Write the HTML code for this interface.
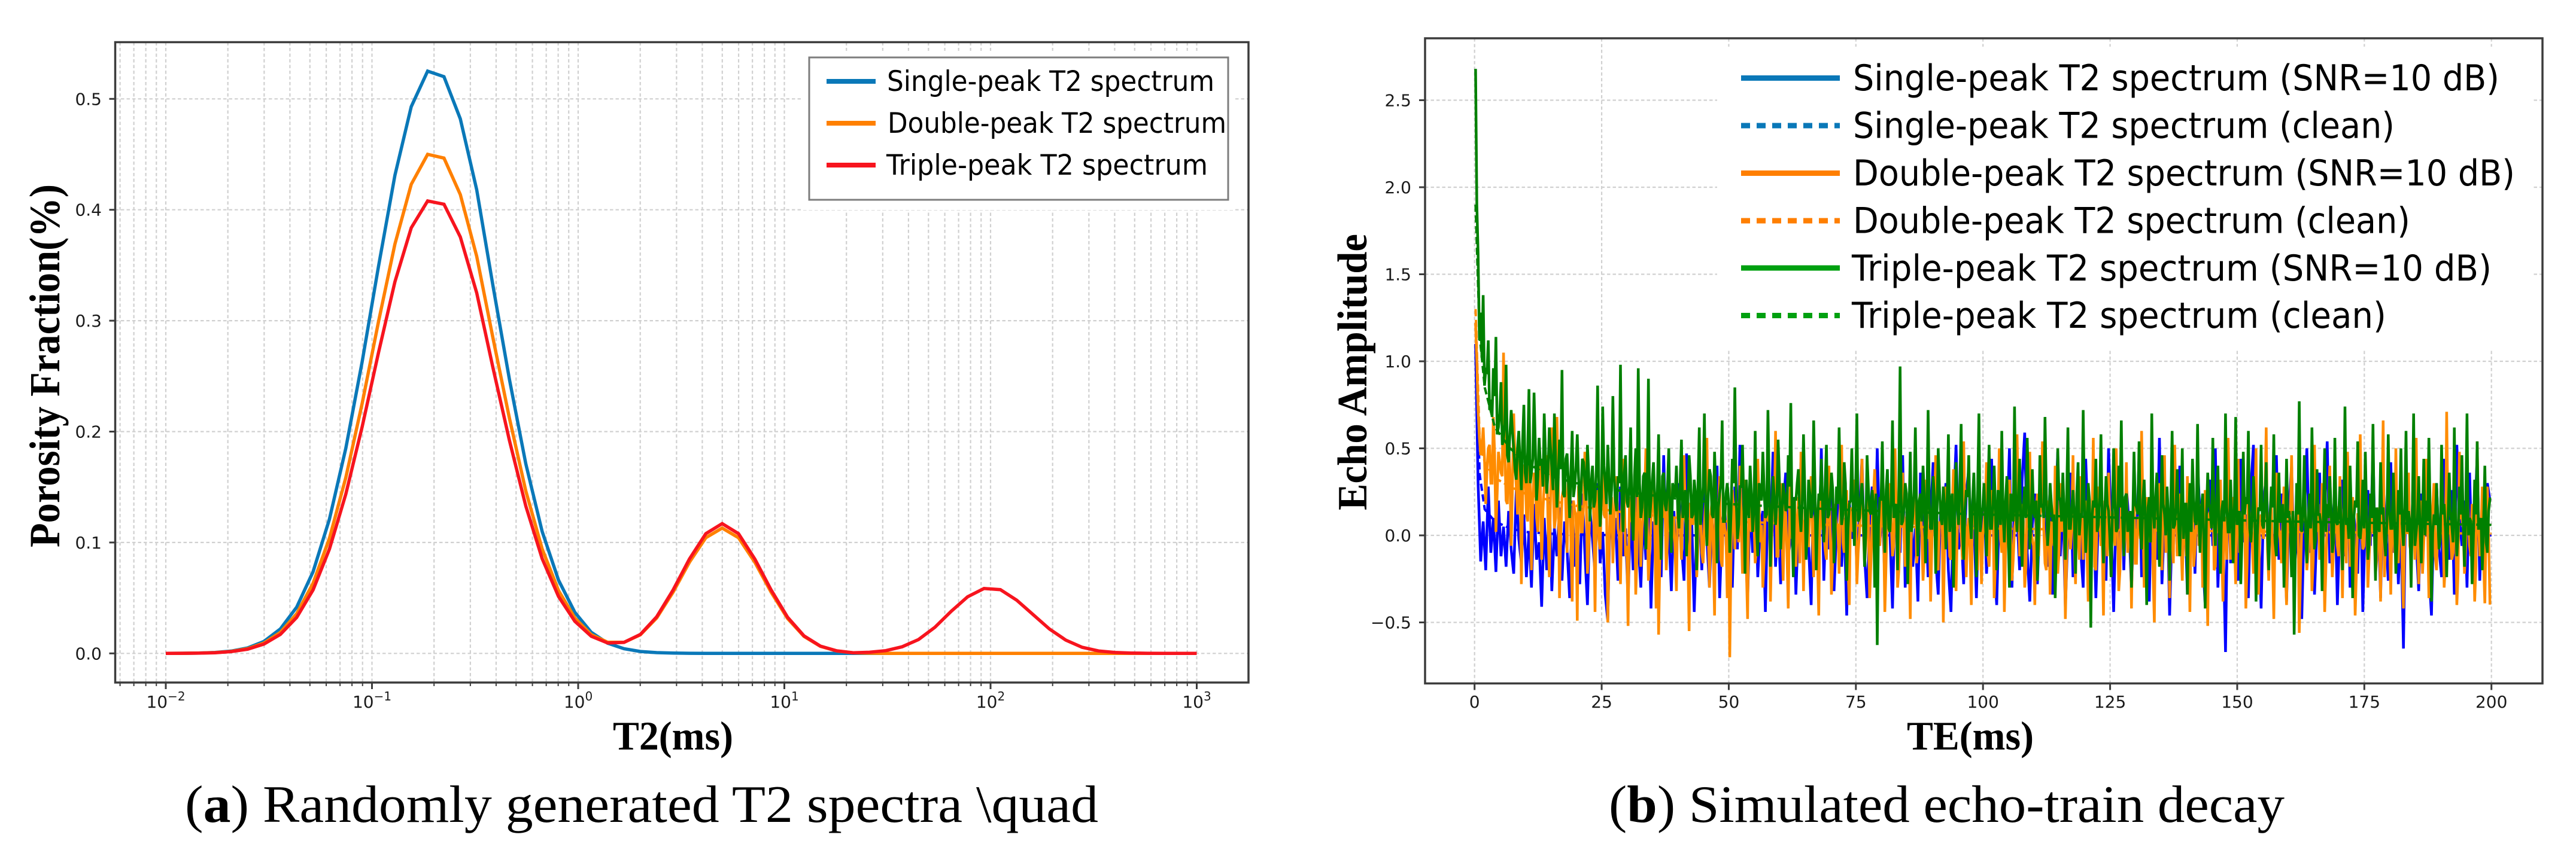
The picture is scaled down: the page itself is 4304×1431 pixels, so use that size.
<!DOCTYPE html>
<html lang="en">
<head>
<meta charset="utf-8">
<title>T2 spectra and echo-train decay</title>
<style>
html,body{margin:0;padding:0;background:#fff;}
svg{display:block;}
.tick{font-family:"DejaVu Sans","Liberation Sans",sans-serif;font-size:28px;fill:#1a1a1a;}
.legend{font-family:"DejaVu Sans","Liberation Sans",sans-serif;fill:#000;}
.axis-title{font-family:"Liberation Serif",serif;font-weight:bold;fill:#000;}
.caption{font-family:"Liberation Serif",serif;font-size:88px;fill:#000;}
</style>
</head>
<body>
<svg id="fig" xmlns="http://www.w3.org/2000/svg" width="4304" height="1431" viewBox="0 0 4304 1431">
  <rect x="0" y="0" width="4304" height="1431" fill="#fff"/>
  <g id="panelA"></g>
  <g id="panelB"></g>

  <g>
    <rect x="1340" y="85" width="724" height="266" fill="#fff"/>
    <rect x="1352" y="96" width="700" height="238" fill="#fff" stroke="#7d7d7d" stroke-width="3"/>
    <line x1="1381" x2="1463" y1="136" y2="136" stroke="#0a78b8" stroke-width="8"/>
    <line x1="1381" x2="1463" y1="206" y2="206" stroke="#ff8000" stroke-width="8"/>
    <line x1="1381" x2="1463" y1="276" y2="276" stroke="#f7141e" stroke-width="8"/>
    <text class="legend" x="1482" y="152" font-size="47" textLength="547" lengthAdjust="spacingAndGlyphs">Single-peak T2 spectrum</text>
    <text class="legend" x="1483" y="222" font-size="47" textLength="566" lengthAdjust="spacingAndGlyphs">Double-peak T2 spectrum</text>
    <text class="legend" x="1481" y="292" font-size="47" textLength="537" lengthAdjust="spacingAndGlyphs">Triple-peak T2 spectrum</text>
  </g>

  <text class="axis-title" x="1024" y="1253" font-size="68" textLength="201" lengthAdjust="spacingAndGlyphs">T2(ms)</text>
  <text class="axis-title" transform="translate(99 915) rotate(-90)" x="0" y="0" font-size="72" textLength="607" lengthAdjust="spacingAndGlyphs">Porosity Fraction(%)</text>
  <text class="caption" x="309" y="1374" textLength="1526" lengthAdjust="spacingAndGlyphs">(<tspan font-weight="bold">a</tspan>) Randomly generated T2 spectra \quad</text>

  <text class="axis-title" x="3186" y="1253" font-size="68" textLength="212" lengthAdjust="spacingAndGlyphs">TE(ms)</text>
  <text class="axis-title" transform="translate(2283 853) rotate(-90)" x="0" y="0" font-size="70" textLength="462" lengthAdjust="spacingAndGlyphs">Echo Amplitude</text>
  <text class="caption" x="2688" y="1374" textLength="1129" lengthAdjust="spacingAndGlyphs">(<tspan font-weight="bold">b</tspan>) Simulated echo-train decay</text>

<script>
const t2Min = 0.01;
const t2Max = 1000;
const t2Decades = [-2, -1, 0, 1, 2, 3];
const t2DecadeLabels = ['\u22122', '\u22121', '0', '1', '2', '3'];
const t2MinorTicks = [0.006,0.007,0.008,0.009,0.02,0.03,0.04,0.05,0.06,0.07,0.08,0.09,0.2,0.3,0.4,0.5,0.6,0.7,0.8,0.9,2,3,4,5,6,7,8,9,20,30,40,50,60,70,80,90,200,300,400,500,600,700,800,900];
const porosityTicks = [0, 0.1, 0.2, 0.3, 0.4, 0.5];

const singlePeak = [0,.0001,.0003,.0008,.0021,.0049,.0108,.022,.0417,.0737,.121,.185,.263,.349,.431,.493,.525,.52,.482,.418,.331,.247,.171,.11,.066,.037,.019,.0092,.0042,.0017,.0007,.0003,.0001,0,0,0,0,0,0,0,0,0,0,0,0,0,0,0,0,0,0,0,0,0,0,0,0,0,0,0,0,0,0,0];
const doublePeak = [0,.0001,.0003,.0007,.0018,.0042,.0093,.0189,.0357,.0632,.1037,.1585,.2254,.2991,.369,.423,.45,.4466,.4137,.358,.284,.212,.1465,.0943,.0566,.0319,.0169,.0101,.01,.0168,.032,.0553,.0822,.1043,.113,.1043,.0821,.055,.0314,.0153,.0064,.0022,.0006,.0002,0,0,0,0,0,0,0,0,0,0,0,0,0,0,0,0,0,0,0,0];
const triplePeak = [0,.0001,.0002,.0006,.0016,.0038,.0084,.0171,.0324,.0573,.094,.1437,.2043,.2712,.335,.3837,.408,.405,.3755,.325,.2572,.1919,.1329,.0855,.0513,.0289,.0154,.0094,.0099,.0171,.033,.0572,.0851,.108,.117,.108,.085,.057,.0325,.0158,.0066,.0023,.0006,.001,.0025,.006,.0125,.0235,.038,.051,.0585,.0575,.048,.035,.022,.012,.0055,.0022,.0008,.0003,.0001,0,0,0];

const teTicks = [0, 25, 50, 75, 100, 125, 150, 175, 200];
const echoTicks = [-0.5, 0, 0.5, 1, 1.5, 2, 2.5];
const echoTickLabels = ['\u22120.5', '0.0', '0.5', '1.0', '1.5', '2.0', '2.5'];
const teStart = 0.2;
const teStep = 0.5;

const noisySingle = [
1.1,.3,-.15,.08,-.2,.28,-.1,.1,-.21,.2,-.12,.05,-.18,.14,-.08,-.22,.26,-.02,-.16,.12,
-.24,.02,-.3,.18,-.14,-.04,-.41,.1,-.2,.22,-.32,.04,-.12,.16,-.26,.08,-.08,-.36,.2,-.18,
.06,-.28,.24,-.1,-.4,.14,-.02,-.22,.3,-.16,.02,-.34,-.49,.18,-.06,.1,-.26,.28,-.12,.04,
-.38,.16,-.2,.34,-.04,-.3,.12,-.14,.26,-.42,.08,-.08,.2,-.24,.46,-.1,.02,-.32,.14,-.18,
.3,-.06,-.26,.47,-.14,.1,-.44,.04,.22,-.2,.36,-.02,-.3,.12,-.12,.4,-.36,.06,.18,-.22,
.08,-.3,.28,-.08,.52,-.16,.02,-.38,.2,-.1,.34,-.24,.06,.14,-.44,.24,-.04,.48,-.18,.1,
-.28,.16,.36,-.12,-.02,.22,-.34,.08,.42,-.2,.12,-.06,-.4,.3,.02,-.14,.5,-.26,.18,-.08,
.26,-.32,.04,.38,-.18,.1,-.46,.2,-.02,.32,-.22,.14,.44,-.12,-.36,.06,.28,-.16,.5,-.04,
.16,-.26,.34,.02,-.42,.22,.08,-.1,.46,-.3,.12,.26,-.18,.04,-.38,.36,-.06,.18,-.24,.1,
.42,-.14,-.34,.2,.06,.3,-.2,-.44,.14,.52,-.08,.02,-.28,.24,.38,-.12,.1,-.36,.18,-.04,
.28,-.22,.08,.44,-.16,-.4,.16,.34,-.06,.04,.5,-.3,.2,.12,-.2,.32,.59,-.1,-.38,.06,
.24,-.28,.14,.4,-.04,-.18,.3,-.34,.08,.48,-.12,.2,-.42,.02,.36,-.24,.1,.26,-.08,-.3,
.44,.04,-.16,.22,-.36,.12,.32,-.02,-.26,.5,.06,-.44,.18,-.1,.38,-.2,.28,.08,-.32,.14,
-.06,.46,-.24,.1,.2,-.38,.34,.02,-.14,.56,-.28,.12,.24,-.46,.06,.3,-.1,.4,-.18,.16,
-.34,.04,.26,-.22,.42,.1,-.12,-.4,.18,.32,-.06,.5,-.3,.14,.02,-.67,.36,-.16,.22,.08,
-.26,.44,-.04,.12,-.36,.28,.52,-.18,.06,-.42,.2,.34,-.08,.1,-.3,.46,-.14,.24,.02,-.38,
.16,.4,-.2,-.04,.3,-.48,.12,.5,-.1,.22,-.34,.06,.36,-.24,.14,.54,-.16,-.02,.28,-.4,
.08,.32,-.12,.46,-.3,.18,.04,-.22,.38,-.44,.1,.26,-.06,.5,-.18,.14,-.36,.3,.02,-.26,
.42,-.1,.2,-.28,.06,-.65,.34,.12,-.16,.48,-.04,-.32,.24,.1,.38,-.2,-.46,.16,.3,-.08,
-.24,.44,.04,-.14,.26,-.34,.52,.1,-.06,.2,-.3,.36,-.18,.08,.46,-.26,.14,-.02,.3,.2
];
const noisyDouble = [
1.22,.72,.46,.62,.18,.5,.3,.68,.02,.48,.36,1.05,.2,.52,-.06,.7,.28,.44,-.28,.4,
.12,.58,-.2,.36,.1,.5,-.14,.3,.46,-.24,.62,.04,.68,-.36,.22,.42,-.1,.34,-.38,.14,
-.49,.3,.02,.48,-.22,.18,.36,-.44,.26,-.08,.52,.1,-.5,.2,-.16,.34,.04,-.28,.44,-.12,
-.52,.22,.06,-.34,.4,-.18,.14,.5,-.26,.08,.32,-.42,-.57,.16,.28,-.2,.38,-.06,.1,-.32,
.24,-.14,.46,.02,-.55,.18,.3,-.24,.42,-.1,.06,.56,-.3,.2,-.46,.12,.34,-.18,.04,-.36,
-.7,.26,-.08,.14,.4,-.22,.32,-.48,.1,.2,-.16,.44,-.04,-.3,.24,.08,-.38,.16,.6,-.12,
.3,-.26,.12,-.42,.36,.02,-.18,.22,.48,-.32,.1,-.06,.34,-.24,.16,-.46,.28,.04,-.14,.4,
-.34,.18,.06,-.22,.52,-.1,.26,-.4,.12,.32,-.28,.02,.44,-.16,.2,-.36,.08,.38,-.2,-.06,
.24,-.44,.14,.3,-.12,.5,-.3,.04,.36,-.18,.1,-.48,.22,.42,-.08,.16,-.26,.32,-.02,-.38,
.18,.46,-.2,.06,-.5,.28,.12,-.14,.38,-.32,.2,.02,.54,-.24,.1,-.4,.3,-.06,.16,-.28,
.08,.42,-.18,.26,-.36,.14,.5,-.1,-.44,.22,.32,-.26,.04,.58,-.12,.18,-.3,.36,.48,-.02,
-.4,.24,.1,.54,-.16,.2,-.34,.06,.4,-.22,.3,.12,-.48,.16,-.08,.46,-.28,.02,.34,-.14,
.2,-.38,.08,.56,-.2,.28,-.06,-.46,.14,.36,-.24,.04,.5,-.32,.18,-.1,.42,.06,-.42,.26,
-.16,.1,.6,-.3,.22,-.04,.38,-.5,.12,.3,-.2,.46,.02,-.36,.16,.52,-.12,.24,-.26,.08,
.34,-.44,.18,-.08,.48,.06,-.3,.26,-.52,.14,.4,-.18,.02,.32,-.38,.1,.56,-.14,.22,-.28,
.44,-.06,.16,-.42,.3,.08,-.22,.5,-.34,.12,-.02,.62,-.26,.2,-.48,.36,.04,-.16,.28,-.4,
.14,.46,-.1,.24,-.56,.06,.38,-.2,.18,-.32,.52,.02,-.14,.3,-.44,.1,.4,-.24,.16,-.06,
.34,-.36,.08,.48,-.18,.22,-.46,.12,.58,-.08,.28,-.3,.04,.42,-.22,.16,-.38,.66,-.02,.2,
-.34,.1,.5,-.16,.26,-.42,.06,.36,-.1,.14,.56,-.28,.2,-.04,.44,-.36,.12,.3,-.2,.02,
.4,-.3,.71,.08,-.14,.24,-.4,.48,.1,-.22,.34,-.06,.18,-.38,.54,-.12,.28,-.39,.28,-.39
];
const noisyTriple = [
2.68,1.62,1.28,1.38,.95,1.12,.78,.96,1.14,.62,.88,.55,.98,.42,.72,.5,.32,.6,.26,.75,
.3,.84,.36,.82,.2,.56,.44,.7,.24,.62,.38,.7,.16,.55,.95,.22,.47,.1,.6,.28,
.58,.14,.44,.3,.52,.08,.4,.2,.86,.05,.74,.3,.52,.12,.8,.2,.34,.98,.02,.46,
.16,.62,-.03,.5,.96,.1,.34,-.08,.9,.2,.42,.06,.58,-.14,.36,.14,.5,-.1,.26,.4,
.04,.55,.2,-.12,.46,.1,.32,-.2,.62,.16,.7,-.06,.38,.12,.48,-.16,.24,.66,.08,.3,
-.1,.44,.85,-.02,.28,.52,-.22,.18,.4,.02,.6,-.12,.26,.48,.1,.72,-.18,.34,.06,.55,
-.08,.3,.14,.46,.76,-.24,.2,.38,.02,.58,-.14,.32,.1,.66,-.2,.24,.44,-.04,.52,.12,
.36,-.16,.28,.62,.06,.42,-.26,.18,.5,-.06,.7,.1,.3,-.18,.46,.14,.26,-.3,-.63,.22,
.54,-.1,.38,.02,.66,.16,-.2,.97,.08,.3,-.28,.48,.12,.62,-.12,.24,.4,-.16,.72,.04,
.34,-.22,.5,.1,.28,-.08,.58,.18,-.3,.42,.06,.64,-.14,.26,.46,-.02,.36,-.24,.7,.12,
.3,-.12,.52,.04,.4,-.2,.22,.6,-.04,.34,-.3,.16,.74,.02,.44,-.18,.28,.56,-.08,.38,
.1,-.26,.46,.18,.68,-.06,.3,.08,-.36,.5,.2,.36,-.14,.62,.04,.26,-.22,.42,.12,.72,
-.1,.3,-.53,.2,.44,.06,.58,-.16,.34,.14,-.24,.5,.02,.4,.66,-.12,.24,.1,-.3,.48,
.16,.54,-.08,.32,-.4,.22,.7,.04,.36,-.18,.46,.12,.28,-.26,.6,.06,.38,-.12,.5,.18,
-.34,.3,.44,.08,.64,-.1,.24,-.42,.36,.14,.56,-.06,.4,-.22,.2,.7,.02,.32,-.16,.68,
.1,-.28,.48,.22,.6,-.04,.34,-.38,.16,.52,.04,.42,-.2,.28,.58,-.12,.36,.08,-.3,.44,
.14,-.24,-.57,.3,.77,.02,.46,-.16,.24,.62,-.08,.38,.12,-.32,.5,.18,.34,-.1,.56,.06,
.28,-.2,.74,.1,.4,-.36,.2,.54,-.02,.32,.48,-.14,.24,.64,-.26,.08,.42,.16,-.12,.58,
.04,.36,-.22,.26,.5,-.06,.6,.14,-.3,.7,.02,.34,-.16,.44,.2,.56,-.38,.12,.3,-.08,
.52,.18,-.24,.36,.06,.62,-.12,.28,.46,-.18,.7,.1,-.28,.32,.54,.04,-.2,.4,-.1,.21
];
/* in-between samples (half a step later), closer to the band's centre */
const midDouble = [
1.0,.56,.5,.44,.38,.52,.3,.46,.24,.42,.34,.5,.18,.38,.28,.44,.12,.36,.22,.4,
.08,.34,.2,.3,.02,.28,.14,.36,.06,.24,.3,.1,.34,0,.26,.16,.32,-.04,.2,.12,
.28,.02,.18,.24,-.08,.3,.1,.16,-.02,.26,.12,.2,-.1,.22,.06,.28,0,.14,.24,-.06,
.18,.08,.26,-.12,.16,.04,.22,.12,-.08,.2,.02,.24,-.14,.1,.18,-.02,.22,.06,-.1,.16,
.02,.2,.1,-.12,.18,.06,.24,-.06,.14,-.16,.2,.04,.12,-.08,.22,.08,-.14,.16,0,.18,
-.1,.12,.2,-.04,.08,.16,-.18,.22,.02,.1,-.08,.18,.06,-.14,.14,.2,-.02,.1,-.12,.16,
.04,.18,-.1,.12,-.02,.2,.06,-.16,.14,.08,-.06,.22,0,.1,-.14,.16,.04,-.08,.18,.02,
-.12,.14,.06,.2,-.04,.1,-.18,.16,.02,.12,-.1,.18,.04,-.06,.14,-.16,.22,.08,-.02,.12,
.04,-.14,.18,.08,-.06,.14,-.2,.2,0,.1,-.08,.16,.06,-.16,.12,.02,-.1,.18,.04,-.04,
.14,-.18,.08,.2,-.02,.1,-.12,.16,-.06,.04,.22,-.14,.12,.02,-.08,.18,.06,-.2,.1,0,
.16,-.1,.06,.2,-.16,.12,-.02,.14,-.08,.18,.04,-.14,.1,.22,-.04,.08,-.18,.16,.02,-.06,
.12,-.12,.18,.04,-.2,.14,.08,-.06,.2,-.1,.02,.16,-.16,.1,.06,-.02,.18,-.14,.12,.04,
-.08,.16,.02,-.18,.12,.08,-.04,.2,-.12,.06,.14,-.06,.1,-.2,.18,.02,-.1,.14,.06,-.16,
.1,-.02,.16,-.14,.08,.04,-.22,.14,.12,-.06,.18,-.1,.02,.1,-.16,.16,.06,-.04,.12,-.12,
.04,.14,-.18,.08,-.06,.18,0,-.12,.12,.06,-.2,.16,.02,-.08,.1,-.14,.2,.04,-.02,.12,
-.1,.06,.16,-.16,.1,-.04,.14,-.2,.08,.02,.18,-.08,.12,-.14,.04,.16,-.02,.1,-.18,.06,
.12,-.06,.02,.16,-.22,.1,.04,-.1,.14,-.14,.08,.18,-.04,.06,-.18,.12,.02,-.08,.16,-.12,
.06,.1,-.16,.14,-.02,.08,-.2,.12,.04,-.06,.16,-.12,.02,.1,-.14,.06,.14,-.24,.08,0,
.12,-.1,.04,.16,-.18,.06,.1,-.06,.14,-.14,.02,.12,-.22,.08,.04,-.08,.16,-.12,.06,-.02,
.14,-.16,.08,.02,-.1,.12,-.2,.1,.04,-.06,.14,-.12,.06,-.18,.1,.02,-.14,.08,0,-.39
];
const midTriple = [
1.9,1.12,1.02,.86,.94,.72,.68,.8,.58,.7,.52,.64,.46,.58,.6,.38,.5,.42,.54,.36,
.48,.3,.44,.52,.34,.4,.28,.46,.36,.5,.26,.42,.32,.38,.24,.44,.3,.36,.22,.4,
.34,.26,.42,.2,.36,.3,.16,.38,.28,.22,.4,.18,.32,.26,.34,.14,.3,.24,.36,.2,
.28,.12,.34,.22,.3,.16,.36,.24,.1,.32,.2,.26,.14,.34,.18,.28,.08,.3,.22,.16,
.32,.1,.26,.2,.34,.12,.24,.3,.06,.28,.18,.22,.34,.1,.26,.16,.3,.08,.24,.2,
.14,.3,.22,.06,.28,.18,.32,.1,.24,.16,.04,.3,.2,.26,.12,.28,.08,.22,.18,.32,
.1,.24,.16,.28,.06,.22,.3,.12,.18,.26,.02,.24,.14,.3,.08,.2,.16,.28,.1,.22,
.26,.06,.18,.24,.12,.3,.04,.2,.14,.26,.08,.22,.16,.02,.28,.12,.18,.24,.06,.2,
.14,.26,.04,.22,.1,.18,.28,.06,.16,.24,.12,.02,.26,.14,.2,.08,.24,.1,.18,.04,
.22,.12,.26,.06,.16,.2,.02,.24,.1,.18,.28,.04,.14,.22,.08,.2,.12,.26,.02,.16,
.1,.22,.04,.18,.14,.26,.06,.12,.2,0,.24,.08,.16,.22,.04,.18,.1,.24,.06,.14,
.2,.02,.16,.1,.24,.06,.18,.12,-.02,.22,.08,.14,.2,.04,.16,.1,.24,0,.12,.18,
.06,.2,.1,.16,.02,.22,.08,.14,.18,-.02,.12,.2,.04,.16,.1,.22,.02,.14,.08,.18,
.12,.04,.2,.08,.16,-.04,.14,.22,.06,.1,.18,0,.12,.2,.04,.16,.08,.14,-.02,.18,
.1,.02,.2,.06,.14,.16,-.04,.12,.18,.04,.1,.2,0,.14,.08,.16,.02,.1,.18,.06,
.14,-.02,.12,.18,.04,.1,.16,0,.14,.06,.2,.02,.1,.16,-.04,.12,.08,.18,.02,.1,
.06,.14,-.06,.12,.08,.16,0,.1,.04,.18,-.02,.12,.06,.14,.02,.1,.16,-.04,.08,.12,
.02,.14,.06,-.02,.12,.1,.16,0,.08,.04,.14,-.04,.1,.06,.16,.02,.12,-.02,.08,.14,
.04,.1,-.04,.12,.06,.16,.02,.08,.14,-.06,.1,.04,.12,0,.08,.14,.02,.06,.1,-.02,
.12,.04,.08,.14,-.04,.1,.02,.12,.06,.16,0,.08,-.02,.12,.04,.1,.06,-.04,.14,.21
];
const cleanTE = [0.2,1,2,4,7,10,15,20,30,40,50,70,100,130,160,200];
const cleanSingle = [1.1,.35,.15,.08,.04,.02,.01,.005,0,0,0,0,0,0,0,0];
const cleanDouble = [1.3,.55,.42,.33,.28,.24,.2,.17,.13,.1,.08,.06,.04,.03,.02,.01];
const cleanTriple = [1.9,1.15,.85,.62,.5,.42,.34,.3,.25,.21,.18,.15,.12,.1,.08,.06];

const NS = 'http://www.w3.org/2000/svg';
function mk(tag, attrs, parent) {
  const e = document.createElementNS(NS, tag);
  for (const k in attrs) e.setAttribute(k, attrs[k]);
  parent.appendChild(e);
  return e;
}
const GRID = {stroke:'#d0d0d0','stroke-width':2.2,'stroke-dasharray':'5.5 4',fill:'none'};
const SPINE = '#3c3c3c';

/* Panel A axis functions */
const ax = {l:192.5,r:2086,t:70.5,b:1141};
function xA(t) { return 966 + 344.5 * Math.log10(t); }
function yA(v) { return 1092.3 - 1854 * v; }
const A = document.getElementById('panelA');

t2MinorTicks.forEach(function (t) {
  const g = mk('line', Object.assign({x1:xA(t),x2:xA(t),y1:ax.t,y2:ax.b}, GRID), A);
  
  
  const k = mk('line', {x1:xA(t),x2:xA(t),y1:ax.b,y2:ax.b+6,stroke:SPINE,'stroke-width':2}, A);
  
  
});
t2Decades.forEach(function (d, i) {
  const t = Math.pow(10, d);
  const g = mk('line', Object.assign({x1:xA(t),x2:xA(t),y1:ax.t,y2:ax.b}, GRID), A);
  
  
  const k = mk('line', {x1:xA(t),x2:xA(t),y1:ax.b,y2:ax.b+11,stroke:SPINE,'stroke-width':3}, A);
  
  
  const lab = mk('text', {x:xA(t),y:1183,'text-anchor':'middle',class:'tick'}, A);
  
  
  const b = mk('tspan', {}, lab);
  b.textContent = '10';
  const s = mk('tspan', {dy:-12,'font-size':20}, lab);
  s.textContent = t2DecadeLabels[i];
});
porosityTicks.forEach(function (v) {
  const g = mk('line', Object.assign({x1:ax.l,x2:ax.r,y1:yA(v),y2:yA(v)}, GRID), A);
  
  
  const k = mk('line', {x1:ax.l-10,x2:ax.l,y1:yA(v),y2:yA(v),stroke:SPINE,'stroke-width':3}, A);
  
  
  const lab = mk('text', {x:170,y:yA(v)+10,'text-anchor':'end',class:'tick'}, A);
  
  
  lab.textContent = v.toFixed(1);
});
function spectrumPath(vals) {
  const n = vals.length;
  return vals.map(function (v, i) {
    const t = t2Min * Math.pow(t2Max / t2Min, i / (n - 1));
    return (i ? 'L' : 'M') + xA(t).toFixed(1) + ' ' + yA(v).toFixed(1);
  }).join('');
}
const spectrumSingle = mk('path', {d:spectrumPath(singlePeak),fill:'none',stroke:'#0a78b8','stroke-width':5.5}, A);


const spectrumDouble = mk('path', {d:spectrumPath(doublePeak),fill:'none',stroke:'#ff8000','stroke-width':5.5}, A);


const spectrumTriple = mk('path', {d:spectrumPath(triplePeak),fill:'none',stroke:'#f7141e','stroke-width':5.5}, A);


const frameA = mk('rect', {x:ax.l,y:ax.t,width:ax.r-ax.l,height:ax.b-ax.t,fill:'none',stroke:SPINE,'stroke-width':3.5}, A);



/* Panel B axis functions */
const bx = {l:2381,r:4248,t:64,b:1142.5};
function xB(t) { return 2463.7 + 8.495 * t; }
function yB(v) { return 895 - 291 * v; }
const B = document.getElementById('panelB');

teTicks.forEach(function (t) {
  const g = mk('line', Object.assign({x1:xB(t),x2:xB(t),y1:bx.t,y2:bx.b}, GRID), B);
  
  
  const k = mk('line', {x1:xB(t),x2:xB(t),y1:bx.b,y2:bx.b+11,stroke:SPINE,'stroke-width':3}, B);
  
  
  const lab = mk('text', {x:xB(t),y:1183,'text-anchor':'middle',class:'tick'}, B);
  
  
  lab.textContent = String(t);
});
echoTicks.forEach(function (v, i) {
  const g = mk('line', Object.assign({x1:bx.l,x2:bx.r,y1:yB(v),y2:yB(v)}, GRID), B);
  
  
  const k = mk('line', {x1:bx.l-10,x2:bx.l,y1:yB(v),y2:yB(v),stroke:SPINE,'stroke-width':3}, B);
  
  
  const lab = mk('text', {x:2358,y:yB(v)+10,'text-anchor':'end',class:'tick'}, B);
  
  
  lab.textContent = echoTickLabels[i];
});

const legendMask = mk('rect', {x:2869,y:78,width:1362,height:506,fill:'#fff'}, B);



function noisyPath(vals, mids) {
  let d = '';
  vals.forEach(function (v, i) {
    const te = teStart + teStep * i;
    d += (i ? 'L' : 'M') + xB(te).toFixed(1) + ' ' + yB(v).toFixed(1);
    if (mids) d += 'L' + xB(te + teStep / 2).toFixed(1) + ' ' + yB(mids[i]).toFixed(1);
  });
  return d;
}
function cleanPath(vals) {
  return vals.map(function (v, i) {
    return (i ? 'L' : 'M') + xB(cleanTE[i]).toFixed(1) + ' ' + yB(v).toFixed(1);
  }).join('');
}
const lineSingle = mk('path', {d:noisyPath(noisySingle),fill:'none',stroke:'#0000ff','stroke-width':4.5}, B);


const dashSingle = mk('path', {d:cleanPath(cleanSingle),fill:'none',stroke:'#0000ff','stroke-width':4,'stroke-dasharray':'12 6'}, B);


const lineDouble = mk('path', {d:noisyPath(noisyDouble, midDouble),fill:'none',stroke:'#ff8c00','stroke-width':4.5}, B);


const dashDouble = mk('path', {d:cleanPath(cleanDouble),fill:'none',stroke:'#ff8c00','stroke-width':4,'stroke-dasharray':'12 6'}, B);


const lineTriple = mk('path', {d:noisyPath(noisyTriple, midTriple),fill:'none',stroke:'#008000','stroke-width':4.5}, B);


const dashTriple = mk('path', {d:cleanPath(cleanTriple),fill:'none',stroke:'#008000','stroke-width':4,'stroke-dasharray':'12 6'}, B);


const frameB = mk('rect', {x:bx.l,y:bx.t,width:bx.r-bx.l,height:bx.b-bx.t,fill:'none',stroke:SPINE,'stroke-width':3.5}, B);


</script>

  <g>
    <line x1="2909" x2="3074" y1="130.5" y2="130.5" stroke="#0a78b8" stroke-width="9"/>
    <line x1="2909" x2="3074" y1="210" y2="210" stroke="#0a78b8" stroke-width="9" stroke-dasharray="15 11"/>
    <line x1="2909" x2="3074" y1="289.5" y2="289.5" stroke="#ff7f00" stroke-width="9"/>
    <line x1="2909" x2="3074" y1="369" y2="369" stroke="#ff7f00" stroke-width="9" stroke-dasharray="15 11"/>
    <line x1="2909" x2="3074" y1="448" y2="448" stroke="#00a010" stroke-width="9"/>
    <line x1="2909" x2="3074" y1="527.5" y2="527.5" stroke="#00a010" stroke-width="9" stroke-dasharray="15 11"/>
    <text class="legend" x="3096" y="151" font-size="60" textLength="1080" lengthAdjust="spacingAndGlyphs">Single-peak T2 spectrum (SNR=10 dB)</text>
    <text class="legend" x="3096" y="230.5" font-size="60" textLength="905" lengthAdjust="spacingAndGlyphs">Single-peak T2 spectrum (clean)</text>
    <text class="legend" x="3096" y="310" font-size="60" textLength="1106" lengthAdjust="spacingAndGlyphs">Double-peak T2 spectrum (SNR=10 dB)</text>
    <text class="legend" x="3096" y="389.5" font-size="60" textLength="931" lengthAdjust="spacingAndGlyphs">Double-peak T2 spectrum (clean)</text>
    <text class="legend" x="3094" y="469" font-size="60" textLength="1069" lengthAdjust="spacingAndGlyphs">Triple-peak T2 spectrum (SNR=10 dB)</text>
    <text class="legend" x="3094" y="548" font-size="60" textLength="893" lengthAdjust="spacingAndGlyphs">Triple-peak T2 spectrum (clean)</text>
  </g>
</svg>
</body>
</html>
